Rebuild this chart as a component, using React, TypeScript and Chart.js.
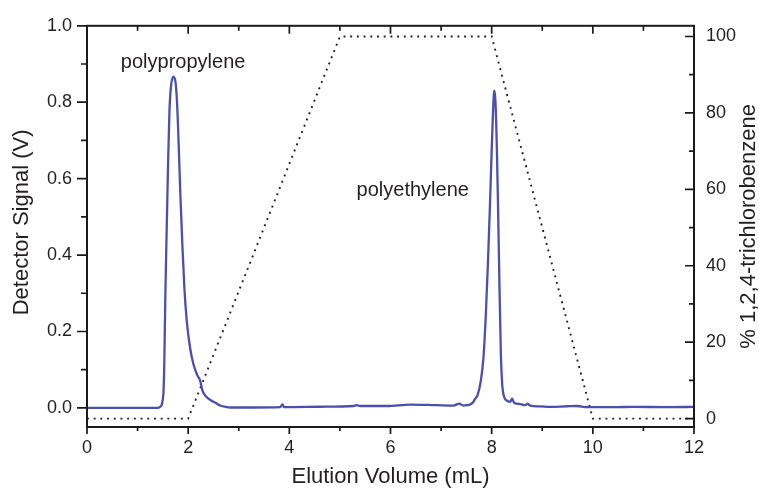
import React, { useEffect, useRef } from "react";
import { Chart, registerables } from "chart.js";

Chart.register(...registerables);

// Blue trace: detector signal (V) vs elution volume (mL)
const elutionVolume = [
  0, 0.5, 1.0, 1.4, 1.444, 1.51, 1.529, 1.549, 1.576, 1.602, 1.629, 1.661, 1.707,
  1.747, 1.78, 1.813, 1.846, 1.885, 1.925, 1.972, 2.037, 2.103, 2.182, 2.235,
  2.281, 2.354, 2.446, 2.532, 2.63, 2.763, 2.83, 3.29, 3.82, 3.863, 3.896, 4.61,
  5.27, 5.33, 5.4, 5.93, 6.39, 6.92, 7.245, 7.357, 7.44, 7.51, 7.575, 7.64, 7.674,
  7.72, 7.787, 7.838, 7.885, 7.925, 7.964, 7.997, 8.024, 8.044, 8.056, 8.076,
  8.103, 8.129, 8.155, 8.182, 8.208, 8.248, 8.313, 8.366, 8.406, 8.445, 8.564,
  8.663, 8.709, 8.76, 8.96, 9.16, 9.49, 9.69, 9.88, 10.48, 10.8, 11.47, 12.0,
];
const detectorSignal = [
  0, 0, 0, 0, 0.0026, 0.037, 0.124, 0.297, 0.47, 0.633, 0.773, 0.842, 0.867,
  0.855, 0.799, 0.687, 0.557, 0.427, 0.314, 0.228, 0.158, 0.115, 0.085, 0.072,
  0.046, 0.03, 0.02, 0.014, 0.0063, 0.002, 0.001, 0.001, 0.002, 0.009, 0.002, 0.003,
  0.005, 0.007, 0.005, 0.005, 0.0087, 0.007, 0.006, 0.011, 0.006, 0.007, 0.009, 0.016, 0.024,
  0.033, 0.072, 0.132, 0.245, 0.375, 0.522, 0.661, 0.765, 0.821, 0.83, 0.799,
  0.678, 0.505, 0.314, 0.141, 0.063, 0.028, 0.018, 0.016, 0.024, 0.013, 0.01,
  0.007, 0.011, 0.006, 0.004, 0.0026, 0.0043, 0.005, 0.0018, 0.002, 0.0026, 0.002, 0.0026,
];

// Dotted trace: solvent gradient (% 1,2,4-trichlorobenzene)
const gradientVolume = [0, 2, 5, 8, 10, 12];
const gradientPercent = [0, 0, 100, 100, 0, 0];

// Axis ticks
const xTicks = [0, 2, 4, 6, 8, 10, 12];
const xMinorTicks = [1, 3, 5, 7, 9, 11];
const signalTicks = [0, 0.2, 0.4, 0.6, 0.8, 1.0];
const signalMinorTicks = [0.1, 0.3, 0.5, 0.7, 0.9];
const percentTicks = [0, 20, 40, 60, 80, 100];
const percentMinorTicks = [10, 30, 50, 70, 90];

// Peak annotations
const peakLabels = ["polypropylene", "polyethylene"];
const peakLabelVolume = [1.9, 6.44];
const peakLabelSignal = [0.903, 0.57];

const xTitle = "Elution Volume (mL)";
const yTitle = "Detector Signal (V)";
const y2Title = "% 1,2,4-trichlorobenzene";

const FONT = "'Liberation Sans', Arial, Helvetica, sans-serif";
const TEXT = "#231f20";
const AXIS = "#1a1a1a";

const framePlugin = {
  id: "frameAndTicks",
  afterDraw(chart: any) {
    const { ctx, chartArea: a, scales } = chart;
    const x = scales.x;
    const y = scales.y;
    const y2 = scales.y2;
    ctx.save();
    ctx.strokeStyle = AXIS;
    ctx.lineCap = "butt";

    ctx.lineWidth = 1.7;
    ctx.beginPath();
    // left: outward
    signalTicks.forEach((v) => {
      const p = y.getPixelForValue(v);
      ctx.moveTo(a.left, p);
      ctx.lineTo(a.left - 10, p);
    });
    signalMinorTicks.forEach((v) => {
      const p = y.getPixelForValue(v);
      ctx.moveTo(a.left, p);
      ctx.lineTo(a.left - 6, p);
    });
    // right: inward
    percentTicks.forEach((v) => {
      const p = y2.getPixelForValue(v);
      ctx.moveTo(a.right, p);
      ctx.lineTo(a.right - 9, p);
    });
    percentMinorTicks.forEach((v) => {
      const p = y2.getPixelForValue(v);
      ctx.moveTo(a.right, p);
      ctx.lineTo(a.right - 5, p);
    });
    // bottom: outward ; top: inward
    xTicks.forEach((v) => {
      const p = x.getPixelForValue(v);
      ctx.moveTo(p, a.bottom);
      ctx.lineTo(p, a.bottom + 7);
      ctx.moveTo(p, a.top);
      ctx.lineTo(p, a.top + 8);
    });
    xMinorTicks.forEach((v) => {
      const p = x.getPixelForValue(v);
      ctx.moveTo(p, a.bottom);
      ctx.lineTo(p, a.bottom + 4);
      ctx.moveTo(p, a.top);
      ctx.lineTo(p, a.top + 5);
    });
    ctx.stroke();

    ctx.lineWidth = 2;
    ctx.strokeRect(a.left, a.top, a.right - a.left, a.bottom - a.top);

    // peak labels
    ctx.fillStyle = TEXT;
    ctx.font = `20px ${FONT}`;
    ctx.textAlign = "center";
    ctx.textBaseline = "middle";
    peakLabels.forEach((t, i) => {
      ctx.fillText(
        t,
        x.getPixelForValue(peakLabelVolume[i]),
        y.getPixelForValue(peakLabelSignal[i])
      );
    });

    // axis titles
    ctx.font = `22px ${FONT}`;
    ctx.fillText(xTitle, (a.left + a.right) / 2, 477);
    const midY = (a.top + a.bottom) / 2;
    ctx.save();
    ctx.translate(22, midY - 4);
    ctx.rotate(-Math.PI / 2);
    ctx.fillText(yTitle, 0, 0);
    ctx.restore();
    ctx.save();
    ctx.translate(749, midY);
    ctx.rotate(-Math.PI / 2);
    ctx.fillText(y2Title, 0, 0);
    ctx.restore();

    ctx.restore();
  },
};

export default function App() {
  const ref = useRef<HTMLCanvasElement | null>(null);

  useEffect(() => {
    if (!ref.current) return;
    const tickFont = { family: FONT, size: 18 };
    const chart = new Chart(ref.current, {
      type: "line",
      data: {
        datasets: [
          {
            label: "Detector signal",
            data: elutionVolume.map((v, i) => ({ x: v, y: detectorSignal[i] })),
            borderColor: "#4a4fb0",
            borderWidth: 2.3,
            pointRadius: 0,
            cubicInterpolationMode: "monotone",
            yAxisID: "y",
          },
          {
            label: "% TCB",
            data: gradientVolume.map((v, i) => ({ x: v, y: gradientPercent[i] })),
            borderColor: "#1f1f1f",
            borderWidth: 1.9,
            borderDash: [1.9, 4.8],
            pointRadius: 0,
            tension: 0,
            yAxisID: "y2",
          },
        ],
      },
      options: {
        responsive: false,
        animation: false,
        layout: { padding: { top: 23, left: 0, right: 0, bottom: 0 } },
        plugins: {
          legend: { display: false },
          tooltip: { enabled: false },
          title: { display: false },
        },
        scales: {
          x: {
            type: "linear",
            position: "bottom",
            min: 0,
            max: 12,
            grid: { display: false, drawTicks: false },
            border: { display: false },
            afterBuildTicks: (s: any) => {
              s.ticks = xTicks.map((v) => ({ value: v }));
            },
            afterFit: (s: any) => {
              s.height = 62;
            },
            ticks: {
              font: tickFont,
              color: TEXT,
              padding: 10,
              maxRotation: 0,
              callback: (v: any) => String(v),
            },
          },
          y: {
            type: "linear",
            position: "left",
            min: -0.05,
            max: 1.0,
            grid: { display: false, drawTicks: false },
            border: { display: false },
            afterBuildTicks: (s: any) => {
              s.ticks = signalTicks.map((v) => ({ value: v }));
            },
            afterFit: (s: any) => {
              s.width = 87;
            },
            ticks: {
              font: tickFont,
              color: TEXT,
              padding: 15,
              callback: (v: any) => Number(v).toFixed(1),
            },
          },
          y2: {
            type: "linear",
            position: "right",
            min: -2.2,
            max: 102.8,
            grid: { display: false, drawTicks: false },
            border: { display: false },
            afterBuildTicks: (s: any) => {
              s.ticks = percentTicks.map((v) => ({ value: v }));
            },
            afterFit: (s: any) => {
              s.width = 65;
            },
            ticks: {
              font: tickFont,
              color: TEXT,
              padding: 12,
              callback: (v: any) => String(v),
            },
          },
        },
      },
      plugins: [framePlugin],
    });
    return () => chart.destroy();
  }, []);

  return (
    <div
      style={{
        position: "absolute",
        left: 0,
        top: 0,
        width: 759,
        height: 489,
        background: "#ffffff",
      }}
    >
      <canvas ref={ref} width={759} height={489} style={{ display: "block" }} />
    </div>
  );
}
